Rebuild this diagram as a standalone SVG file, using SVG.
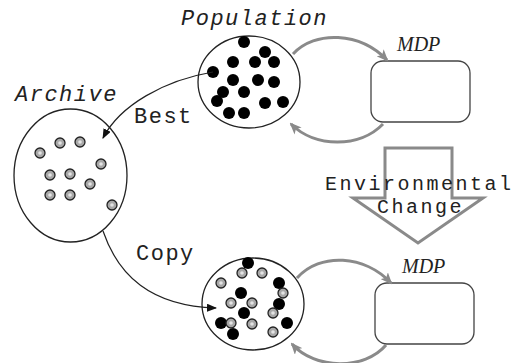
<svg xmlns="http://www.w3.org/2000/svg" xmlns:xlink="http://www.w3.org/1999/xlink" width="515" height="363" viewBox="0 0 515 363">
<style>
.mono{font-family:"Liberation Mono","DejaVu Sans Mono",monospace;font-size:22px;letter-spacing:1.5px;fill:#222}
.env{font-size:20px;letter-spacing:2.5px}
.it{font-style:italic}
.mdp{font-family:"Liberation Serif","Times New Roman",serif;font-style:italic;font-size:20px;fill:#222}
.outline{fill:#fff;stroke:#222;stroke-width:1.3}
.bd{fill:#000}
.conn{fill:none;stroke:#222;stroke-width:1.2}
.garr{fill:none;stroke:#8a8a8a;stroke-width:3}
.box{fill:#fff;stroke:#444;stroke-width:1.3}
</style>
<defs>
<marker id="ah" viewBox="0 0 10 8" refX="9" refY="4" markerWidth="10" markerHeight="8" markerUnits="userSpaceOnUse" orient="auto">
<path d="M0,0 L10,4 L0,8 z" fill="#111"/>
</marker>
<marker id="gh" viewBox="0 0 12 10" refX="10" refY="5" markerWidth="12" markerHeight="10" markerUnits="userSpaceOnUse" orient="auto">
<path d="M0,0 L12,5 L0,10 L3,5 z" fill="#8a8a8a"/>
</marker>
<g id="gd"><circle r="5" fill="#a8a8a8" stroke="#222" stroke-width="1.3"/><circle r="1.8" fill="#e4e4e4"/></g>
</defs>

<g id="archive">
<ellipse class="outline" cx="70.5" cy="175.5" rx="56.5" ry="66.5"/>
<text class="mono it" x="15" y="101">Archive</text>
<use xlink:href="#gd" x="40" y="153"/>
<use xlink:href="#gd" x="60" y="143"/>
<use xlink:href="#gd" x="80" y="142"/>
<use xlink:href="#gd" x="101" y="164"/>
<use xlink:href="#gd" x="50" y="175"/>
<use xlink:href="#gd" x="70" y="174"/>
<use xlink:href="#gd" x="90" y="184"/>
<use xlink:href="#gd" x="50" y="195"/>
<use xlink:href="#gd" x="70" y="195"/>
<use xlink:href="#gd" x="112" y="205"/>
</g>

<g id="population">
<ellipse class="outline" cx="249" cy="82" rx="51" ry="46"/>
<text class="mono it" x="181" y="25">Population</text>
<circle class="bd" cx="244" cy="42" r="6"/>
<circle class="bd" cx="265" cy="52" r="6"/>
<circle class="bd" cx="233" cy="62" r="6"/>
<circle class="bd" cx="255" cy="62" r="6"/>
<circle class="bd" cx="274" cy="62" r="6"/>
<circle class="bd" cx="213" cy="72" r="6"/>
<circle class="bd" cx="233" cy="80" r="6"/>
<circle class="bd" cx="258" cy="80" r="6"/>
<circle class="bd" cx="274" cy="82" r="6"/>
<circle class="bd" cx="223" cy="92" r="6"/>
<circle class="bd" cx="244" cy="92" r="6"/>
<circle class="bd" cx="217" cy="101" r="6"/>
<circle class="bd" cx="265" cy="103" r="6"/>
<circle class="bd" cx="283" cy="102" r="6"/>
<circle class="bd" cx="229" cy="113" r="6"/>
<circle class="bd" cx="244" cy="113" r="6"/>
</g>

<g id="population2">
<ellipse class="outline" cx="253" cy="304" rx="51" ry="46"/>
<circle class="bd" cx="248" cy="263" r="6"/>
<circle class="bd" cx="279" cy="283" r="6"/>
<circle class="bd" cx="241" cy="293" r="6"/>
<circle class="bd" cx="279" cy="304" r="6"/>
<circle class="bd" cx="244" cy="313" r="6"/>
<circle class="bd" cx="221" cy="323" r="6"/>
<circle class="bd" cx="287" cy="323" r="6"/>
<circle class="bd" cx="233" cy="334" r="6"/>
<use xlink:href="#gd" x="242" y="273"/>
<use xlink:href="#gd" x="262" y="273"/>
<use xlink:href="#gd" x="221" y="283"/>
<use xlink:href="#gd" x="283" y="293"/>
<use xlink:href="#gd" x="231" y="303"/>
<use xlink:href="#gd" x="252" y="303"/>
<use xlink:href="#gd" x="273" y="313"/>
<use xlink:href="#gd" x="231" y="323"/>
<use xlink:href="#gd" x="252" y="324"/>
<use xlink:href="#gd" x="273" y="332"/>
</g>

<g id="mdp1">
<rect class="box" x="371" y="61" width="99" height="61" rx="12"/>
<text class="mdp" x="397" y="51">MDP</text>
</g>

<g id="mdp2">
<rect class="box" x="375" y="283" width="99" height="61" rx="12"/>
<text class="mdp" x="402" y="273">MDP</text>
</g>

<g id="change">
<polygon points="385,148 452,148 452,198 483,198 418,243 353,198 385,198" fill="none" stroke="#8a8a8a" stroke-width="3"/>
<text class="mono env" x="325" y="189.5">Environmental</text>
<text class="mono env" x="377" y="213">Change</text>
</g>

<g id="connectors">
<path class="conn" d="M213,72 C165,80 120,105 103,138" marker-end="url(#ah)"/>
<text class="mono" x="134" y="123">Best</text>
<path class="conn" d="M103,231 C118,275 150,306 216,308" marker-end="url(#ah)"/>
<text class="mono" x="136" y="260">Copy</text>
<path class="garr" d="M293,54 C315,30 360,32 387,60" marker-end="url(#gh)"/>
<path class="garr" d="M383,124 C360,148 315,148 291,124" marker-end="url(#gh)"/>
<path class="garr" d="M297,278 C320,252 365,255 391,283" marker-end="url(#gh)"/>
<path class="garr" d="M386,345 C365,370 315,370 292,344" marker-end="url(#gh)"/>
</g>
</svg>
